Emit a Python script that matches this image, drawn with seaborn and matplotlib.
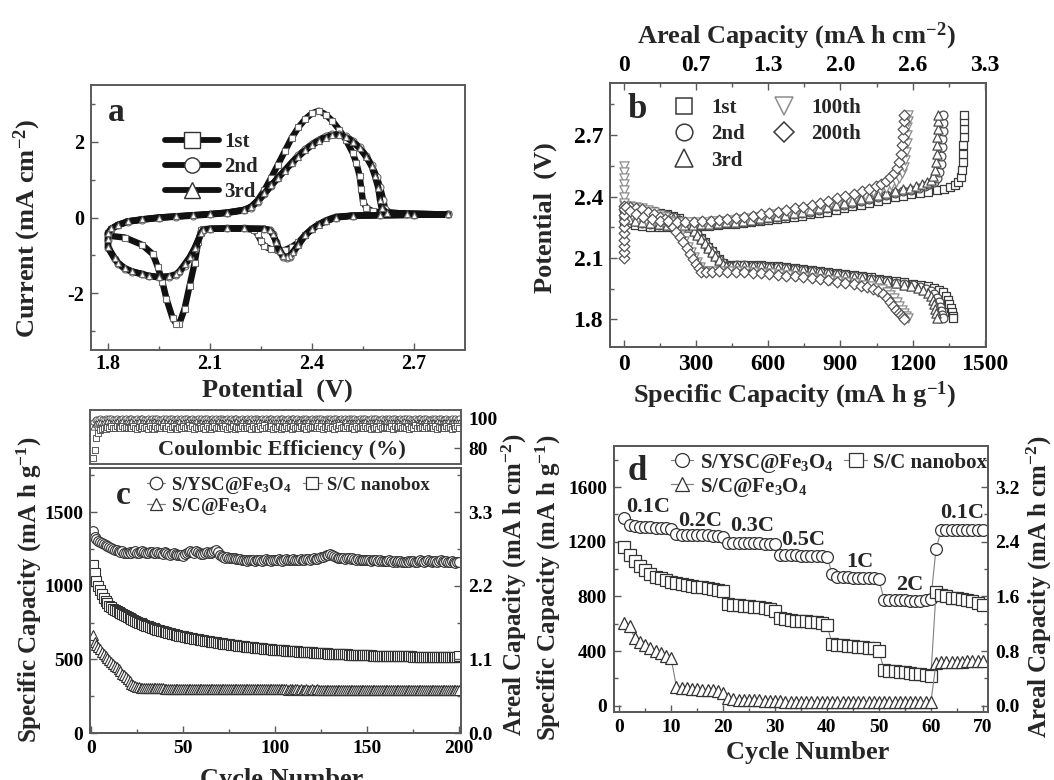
import matplotlib
matplotlib.use("Agg")
import matplotlib.pyplot as plt
from matplotlib.lines import Line2D
from matplotlib.ticker import MultipleLocator, FixedLocator, FixedFormatter
import seaborn as sns

# ---------------------------------------------------------------------------
# (a) cyclic voltammograms, cycles 1-3 (potential in V, current in mA cm^-2)
# ---------------------------------------------------------------------------
cv1_potential = [2.80, 2.70, 2.60, 2.52, 2.47, 2.44, 2.42, 2.40, 2.38, 2.36,
                 2.34, 2.32, 2.30, 2.28, 2.26, 2.25, 2.24, 2.23, 2.20, 2.15,
                 2.10, 2.08, 2.074, 2.065, 2.055, 2.04, 2.025, 2.01, 2.00, 1.99,
                 1.972, 1.96, 1.947, 1.932, 1.90, 1.85, 1.80,
                 1.80, 1.81, 1.83, 1.86, 1.90, 1.95, 2.00, 2.05, 2.10, 2.15,
                 2.20, 2.22, 2.24, 2.26, 2.28, 2.30, 2.32, 2.34, 2.36, 2.38,
                 2.40, 2.42, 2.44, 2.46, 2.48, 2.50, 2.52, 2.53, 2.54, 2.545,
                 2.55, 2.56, 2.58, 2.62, 2.70, 2.80]
cv1_current = [0.08, 0.07, 0.06, 0.05, 0.02, -0.08, -0.18, -0.30, -0.46, -0.66,
               -0.78, -0.86, -0.87, -0.84, -0.76, -0.62, -0.44, -0.33, -0.29, -0.29,
               -0.30, -0.31, -0.34, -0.66, -1.19, -1.80, -2.42, -2.80, -2.80, -2.66,
               -2.15, -1.70, -1.32, -0.97, -0.72, -0.53, -0.48,
               -0.42, -0.30, -0.20, -0.10, -0.05, 0.00, 0.03, 0.06, 0.09, 0.13,
               0.20, 0.27, 0.45, 0.72, 1.05, 1.40, 1.75, 2.10, 2.38, 2.60,
               2.75, 2.82, 2.72, 2.55, 2.32, 2.05, 1.70, 1.45, 1.10, 0.75,
               0.42, 0.25, 0.16, 0.12, 0.10, 0.08]

cv2_potential = [2.80, 2.70, 2.60, 2.52, 2.47, 2.44, 2.42, 2.40, 2.38, 2.36,
                 2.345, 2.335, 2.325, 2.315, 2.305, 2.295, 2.285, 2.275, 2.26, 2.20,
                 2.15, 2.10, 2.08, 2.074, 2.055, 2.04, 2.025, 2.01, 2.00, 1.98,
                 1.95, 1.92, 1.90, 1.87, 1.85, 1.83, 1.82, 1.80,
                 1.80, 1.80, 1.81, 1.83, 1.86, 1.90, 1.95, 2.00, 2.05, 2.10,
                 2.15, 2.20, 2.22, 2.24, 2.26, 2.28, 2.30, 2.32, 2.34, 2.36,
                 2.38, 2.40, 2.42, 2.44, 2.46, 2.48, 2.50, 2.52, 2.54, 2.56,
                 2.575, 2.59, 2.60, 2.61, 2.615, 2.63, 2.68, 2.80]
cv2_current = [0.08, 0.07, 0.06, 0.05, 0.00, -0.10, -0.18, -0.30, -0.46, -0.72,
               -0.92, -1.04, -1.08, -1.05, -0.90, -0.66, -0.44, -0.33, -0.30, -0.29,
               -0.29, -0.30, -0.33, -0.42, -0.83, -1.08, -1.27, -1.45, -1.52, -1.57,
               -1.58, -1.55, -1.50, -1.43, -1.36, -1.22, -1.10, -0.80,
               -0.60, -0.42, -0.30, -0.20, -0.11, -0.06, -0.01, 0.02, 0.05, 0.08,
               0.12, 0.19, 0.26, 0.42, 0.62, 0.84, 1.05, 1.25, 1.45, 1.64,
               1.80, 1.94, 2.05, 2.14, 2.20, 2.20, 2.14, 2.02, 1.85, 1.62,
               1.38, 1.08, 0.80, 0.45, 0.22, 0.13, 0.10, 0.08]

cv3_potential = [2.80, 2.70, 2.60, 2.52, 2.47, 2.44, 2.42, 2.40, 2.38, 2.36,
                 2.345, 2.335, 2.325, 2.315, 2.305, 2.295, 2.285, 2.275, 2.26, 2.20,
                 2.15, 2.10, 2.08, 2.074, 2.055, 2.04, 2.025, 2.01, 2.00, 1.98,
                 1.95, 1.92, 1.90, 1.87, 1.85, 1.83, 1.82, 1.80,
                 1.80, 1.80, 1.81, 1.83, 1.86, 1.90, 1.95, 2.00, 2.05, 2.10,
                 2.15, 2.20, 2.22, 2.24, 2.26, 2.28, 2.30, 2.32, 2.34, 2.36,
                 2.38, 2.40, 2.42, 2.44, 2.46, 2.48, 2.50, 2.52, 2.54, 2.56,
                 2.575, 2.585, 2.595, 2.60, 2.605, 2.62, 2.68, 2.80]
cv3_current = [0.08, 0.07, 0.06, 0.05, 0.00, -0.10, -0.19, -0.31, -0.47, -0.72,
               -0.90, -1.01, -1.05, -1.02, -0.88, -0.65, -0.44, -0.33, -0.30, -0.29,
               -0.29, -0.30, -0.33, -0.41, -0.80, -1.05, -1.24, -1.42, -1.50, -1.55,
               -1.57, -1.54, -1.49, -1.42, -1.34, -1.20, -1.08, -0.78,
               -0.58, -0.41, -0.29, -0.19, -0.10, -0.05, 0.00, 0.03, 0.06, 0.09,
               0.13, 0.20, 0.28, 0.44, 0.64, 0.85, 1.05, 1.24, 1.43, 1.61,
               1.77, 1.91, 2.02, 2.11, 2.17, 2.18, 2.12, 2.00, 1.83, 1.60,
               1.36, 1.10, 0.78, 0.46, 0.24, 0.13, 0.10, 0.08]

cv_labels = ["1st", "2nd", "3rd"]

# ---------------------------------------------------------------------------
# (b) discharge / charge profiles: (specific capacity mA h g^-1, potential V)
# ---------------------------------------------------------------------------
b1_discharge = [(0, 2.342), (30, 2.340), (60, 2.337), (90, 2.333), (120, 2.328), (150, 2.322),
                (180, 2.314), (205, 2.305), (230, 2.293), (250, 2.278), (270, 2.26), (290, 2.238),
                (305, 2.218), (320, 2.197), (335, 2.176), (350, 2.155), (365, 2.134), (380, 2.113),
                (395, 2.093), (410, 2.077), (425, 2.066), (445, 2.066), (470, 2.068), (500, 2.068),
                (535, 2.067), (570, 2.065), (605, 2.062), (640, 2.059), (675, 2.056), (710, 2.052),
                (745, 2.047), (780, 2.043), (815, 2.038), (850, 2.033), (885, 2.028), (920, 2.022),
                (955, 2.017), (990, 2.011), (1025, 2.005), (1060, 1.999), (1095, 1.993), (1130, 1.987),
                (1165, 1.981), (1200, 1.975), (1235, 1.968), (1265, 1.961), (1290, 1.953), (1310, 1.944),
                (1325, 1.932), (1337, 1.915), (1346, 1.895), (1353, 1.875), (1359, 1.855), (1363, 1.835),
                (1366, 1.818), (1368, 1.805)]
b1_charge = [(0, 2.28), (20, 2.27), (45, 2.262), (75, 2.257), (110, 2.253), (145, 2.251), (180, 2.25),
             (215, 2.25), (250, 2.251), (285, 2.253), (320, 2.255), (355, 2.258), (390, 2.261),
             (425, 2.264), (460, 2.268), (495, 2.272), (530, 2.276), (565, 2.28), (600, 2.285),
             (635, 2.29), (670, 2.295), (705, 2.301), (740, 2.307), (775, 2.313), (810, 2.32),
             (845, 2.327), (880, 2.335), (915, 2.343), (950, 2.352), (985, 2.361), (1020, 2.37),
             (1055, 2.379), (1090, 2.388), (1125, 2.396), (1160, 2.404), (1195, 2.411), (1230, 2.418),
             (1265, 2.424), (1300, 2.43), (1330, 2.437), (1355, 2.445), (1375, 2.455), (1390, 2.47),
             (1400, 2.495), (1405, 2.53), (1408, 2.57), (1410, 2.61), (1411, 2.65), (1412, 2.69),
             (1413, 2.73), (1413, 2.77), (1414, 2.80)]

b2_discharge = [(0, 2.335), (30, 2.333), (60, 2.33), (90, 2.327), (120, 2.322), (150, 2.316),
                (180, 2.309), (205, 2.3), (230, 2.288), (250, 2.273), (270, 2.256), (290, 2.235),
                (305, 2.215), (320, 2.195), (335, 2.174), (350, 2.153), (365, 2.132), (380, 2.112),
                (395, 2.092), (410, 2.075), (425, 2.063), (445, 2.062), (470, 2.064), (500, 2.064),
                (535, 2.063), (570, 2.061), (605, 2.058), (640, 2.055), (675, 2.051), (710, 2.047),
                (745, 2.042), (780, 2.038), (815, 2.033), (850, 2.028), (885, 2.022), (920, 2.016),
                (955, 2.011), (990, 2.005), (1025, 1.999), (1060, 1.993), (1095, 1.987), (1130, 1.98),
                (1165, 1.973), (1200, 1.966), (1230, 1.958), (1255, 1.949), (1275, 1.938), (1290, 1.924),
                (1301, 1.905), (1309, 1.885), (1315, 1.862), (1319, 1.84), (1322, 1.822), (1325, 1.805)]
b2_charge = [(0, 2.30), (20, 2.29), (45, 2.28), (75, 2.272), (110, 2.266), (145, 2.262), (180, 2.259),
             (215, 2.258), (250, 2.258), (285, 2.259), (320, 2.261), (355, 2.264), (390, 2.267),
             (425, 2.27), (460, 2.274), (495, 2.278), (530, 2.283), (565, 2.288), (600, 2.294),
             (635, 2.3), (670, 2.306), (705, 2.313), (740, 2.32), (775, 2.327), (810, 2.335),
             (845, 2.343), (880, 2.352), (915, 2.361), (950, 2.37), (985, 2.38), (1020, 2.389),
             (1055, 2.399), (1090, 2.408), (1125, 2.417), (1160, 2.426), (1195, 2.434), (1225, 2.442),
             (1250, 2.451), (1270, 2.46), (1287, 2.472), (1300, 2.49), (1310, 2.52), (1316, 2.56),
             (1320, 2.6), (1322, 2.64), (1324, 2.68), (1325, 2.72), (1326, 2.76), (1327, 2.80)]

b3_discharge = [(0, 2.33), (30, 2.328), (60, 2.326), (90, 2.323), (120, 2.318), (150, 2.312),
                (180, 2.305), (205, 2.296), (230, 2.284), (250, 2.27), (270, 2.253), (290, 2.232),
                (305, 2.212), (320, 2.192), (335, 2.171), (350, 2.15), (365, 2.129), (380, 2.109),
                (395, 2.09), (410, 2.073), (425, 2.061), (445, 2.06), (470, 2.062), (500, 2.062),
                (535, 2.061), (570, 2.059), (605, 2.056), (640, 2.053), (675, 2.049), (710, 2.045),
                (745, 2.04), (780, 2.036), (815, 2.031), (850, 2.026), (885, 2.02), (920, 2.014),
                (955, 2.008), (990, 2.002), (1025, 1.996), (1060, 1.99), (1095, 1.983), (1130, 1.976),
                (1165, 1.969), (1195, 1.961), (1222, 1.952), (1245, 1.942), (1262, 1.93), (1275, 1.914),
                (1284, 1.895), (1290, 1.874), (1295, 1.852), (1298, 1.83), (1301, 1.805)]
b3_charge = [(0, 2.30), (20, 2.291), (45, 2.282), (75, 2.275), (110, 2.269), (145, 2.265), (180, 2.262),
             (215, 2.261), (250, 2.261), (285, 2.262), (320, 2.264), (355, 2.267), (390, 2.27),
             (425, 2.274), (460, 2.278), (495, 2.283), (530, 2.288), (565, 2.293), (600, 2.299),
             (635, 2.305), (670, 2.312), (705, 2.319), (740, 2.326), (775, 2.334), (810, 2.342),
             (845, 2.35), (880, 2.359), (915, 2.368), (950, 2.378), (985, 2.388), (1020, 2.398),
             (1055, 2.407), (1090, 2.417), (1125, 2.426), (1160, 2.435), (1190, 2.443), (1215, 2.451),
             (1240, 2.46), (1260, 2.47), (1275, 2.482), (1285, 2.5), (1292, 2.53), (1297, 2.57),
             (1300, 2.61), (1302, 2.65), (1303, 2.69), (1304, 2.73), (1305, 2.77), (1306, 2.80)]

b100_discharge = [(0, 2.36), (25, 2.356), (50, 2.35), (75, 2.343), (100, 2.334), (125, 2.323),
                  (150, 2.31), (170, 2.298), (188, 2.28), (205, 2.258), (220, 2.235), (235, 2.21),
                  (250, 2.183), (265, 2.155), (280, 2.127), (292, 2.103), (304, 2.078), (315, 2.055),
                  (327, 2.038), (345, 2.034), (370, 2.037), (400, 2.038), (435, 2.037), (470, 2.036),
                  (505, 2.034), (540, 2.032), (575, 2.029), (610, 2.025), (645, 2.021), (680, 2.017),
                  (715, 2.013), (750, 2.009), (785, 2.004), (820, 1.999), (855, 1.994), (890, 1.989),
                  (925, 1.983), (960, 1.977), (995, 1.97), (1025, 1.963), (1050, 1.955), (1072, 1.946),
                  (1092, 1.935), (1108, 1.921), (1122, 1.904), (1134, 1.885), (1145, 1.866),
                  (1155, 1.848), (1164, 1.832), (1172, 1.818), (1181, 1.805)]
b100_charge = [(0, 2.55), (0, 2.52), (0, 2.49), (0, 2.46), (0, 2.43), (0, 2.40), (0, 2.37),
               (3, 2.345), (15, 2.325), (35, 2.308), (60, 2.296), (90, 2.287), (125, 2.281),
               (160, 2.277), (195, 2.275), (230, 2.274), (265, 2.274), (300, 2.275), (335, 2.277),
               (370, 2.28), (405, 2.283), (440, 2.287), (475, 2.291), (510, 2.296), (545, 2.301),
               (580, 2.307), (615, 2.313), (650, 2.319), (685, 2.326), (720, 2.333), (755, 2.341),
               (790, 2.349), (825, 2.358), (860, 2.367), (895, 2.377), (930, 2.387), (965, 2.398),
               (1000, 2.409), (1035, 2.42), (1065, 2.431), (1090, 2.442), (1112, 2.455), (1130, 2.47),
               (1145, 2.49), (1157, 2.515), (1165, 2.545), (1170, 2.58), (1173, 2.62), (1175, 2.66),
               (1177, 2.70), (1178, 2.74), (1179, 2.77), (1180, 2.80)]

b200_discharge = [(0, 2.355), (25, 2.351), (50, 2.345), (75, 2.337), (100, 2.327), (125, 2.315),
                  (150, 2.302), (170, 2.29), (187, 2.273), (202, 2.252), (217, 2.229), (232, 2.204),
                  (247, 2.177), (262, 2.149), (276, 2.121), (288, 2.097), (299, 2.072), (310, 2.05),
                  (322, 2.032), (340, 2.03), (365, 2.033), (395, 2.034), (430, 2.033), (465, 2.032),
                  (500, 2.03), (535, 2.028), (570, 2.025), (605, 2.021), (640, 2.018), (675, 2.014),
                  (710, 2.01), (745, 2.006), (780, 2.001), (815, 1.996), (850, 1.991), (885, 1.985),
                  (920, 1.979), (955, 1.972), (985, 1.965), (1012, 1.957), (1037, 1.948), (1058, 1.937),
                  (1077, 1.923), (1093, 1.906), (1107, 1.887), (1120, 1.867), (1132, 1.848),
                  (1142, 1.832), (1151, 1.82), (1158, 1.81), (1165, 1.802)]
b200_charge = [(0, 2.10), (0, 2.13), (0, 2.16), (0, 2.19), (0, 2.22), (0, 2.25), (0, 2.28), (0, 2.31),
               (2, 2.34), (8, 2.35), (25, 2.33), (50, 2.313), (80, 2.3), (115, 2.29), (150, 2.283),
               (185, 2.279), (220, 2.277), (255, 2.277), (290, 2.278), (325, 2.28), (360, 2.283),
               (395, 2.287), (430, 2.291), (465, 2.296), (500, 2.301), (535, 2.307), (570, 2.313),
               (605, 2.32), (640, 2.327), (675, 2.335), (710, 2.343), (745, 2.351), (780, 2.36),
               (815, 2.37), (850, 2.38), (885, 2.391), (920, 2.402), (955, 2.414), (990, 2.426),
               (1020, 2.438), (1047, 2.45), (1070, 2.463), (1090, 2.478), (1107, 2.495), (1122, 2.515),
               (1135, 2.54), (1145, 2.57), (1152, 2.61), (1157, 2.65), (1160, 2.69), (1162, 2.73),
               (1164, 2.77), (1165, 2.80)]

b_cycles = ["1st", "2nd", "3rd", "100th", "200th"]
b_ticks = [0, 300, 600, 900, 1200, 1500]
areal_top_labels = ["0", "0.7", "1.3", "2.0", "2.6", "3.3"]

# ---------------------------------------------------------------------------
# (c) long-term cycling, 200 cycles (mA h g^-1) and coulombic efficiency (%)
# ---------------------------------------------------------------------------
c_cycles = list(range(1, 201))
c_ysc = [1375, 1330, 1315, 1305, 1296, 1290, 1282, 1276, 1268, 1262, 1257, 1250, 1246, 1240, 1233, 1228, 1236, 1226, 1220, 1226,
         1230, 1222, 1228, 1235, 1226, 1220, 1232, 1238, 1230, 1226, 1222, 1228, 1230, 1224, 1220, 1232, 1226, 1222, 1218, 1228,
         1224, 1215, 1210, 1218, 1222, 1214, 1208, 1212, 1206, 1204, 1214, 1224, 1232, 1238, 1230, 1226, 1234, 1228, 1220, 1214,
         1218, 1224, 1230, 1226, 1222, 1232, 1236, 1240, 1228, 1212, 1200, 1196, 1192, 1194, 1190, 1188, 1192, 1186, 1182, 1184,
         1180, 1176, 1172, 1178, 1170, 1174, 1172, 1176, 1170, 1174, 1178, 1172, 1168, 1176, 1180, 1172, 1174, 1170, 1178, 1176,
         1172, 1180, 1174, 1170, 1176, 1182, 1178, 1172, 1176, 1180, 1176, 1172, 1178, 1182, 1176, 1174, 1180, 1184, 1178, 1182,
         1186, 1180, 1184, 1190, 1196, 1194, 1200, 1206, 1212, 1218, 1210, 1200, 1194, 1190, 1186, 1192, 1188, 1184, 1190, 1186,
         1182, 1186, 1180, 1176, 1180, 1178, 1174, 1178, 1176, 1172, 1176, 1170, 1174, 1178, 1172, 1168, 1174, 1170, 1166, 1170,
         1166, 1172, 1168, 1164, 1168, 1162, 1166, 1170, 1164, 1160, 1164, 1168, 1162, 1166, 1170, 1164, 1160, 1166, 1172, 1168,
         1164, 1170, 1174, 1168, 1164, 1170, 1166, 1162, 1168, 1172, 1166, 1162, 1168, 1164, 1160, 1166, 1162, 1158, 1164, 1160]
c_nanobox = [1141, 1090, 1035, 1000, 968, 942, 920, 900, 880, 864, 854, 845, 836, 828, 820, 813, 806, 799, 792, 785,
             779, 773, 767, 761, 755, 750, 744, 739, 734, 729, 725, 720, 716, 712, 707, 703, 699, 695, 691, 687,
             684, 681, 677, 674, 671, 668, 665, 662, 659, 656, 653, 651, 648, 646, 643, 641, 638, 636, 634, 631,
             629, 627, 625, 623, 621, 619, 617, 615, 613, 611, 609, 607, 605, 603, 602, 600, 598, 597, 595, 593,
             592, 590, 589, 587, 586, 584, 583, 581, 580, 579, 577, 576, 575, 573, 572, 571, 570, 568, 567, 566,
             565, 564, 563, 562, 561, 560, 559, 558, 557, 556, 555, 554, 553, 552, 551, 550, 549, 548, 548, 547,
             546, 545, 544, 544, 543, 542, 541, 541, 540, 539, 539, 538, 537, 537, 536, 535, 535, 534, 534, 533,
             532, 532, 531, 531, 530, 530, 529, 529, 528, 528, 527, 527, 526, 526, 526, 525, 525, 524, 524, 524,
             523, 523, 523, 522, 522, 522, 521, 521, 521, 521, 520, 520, 520, 520, 519, 519, 519, 519, 518, 518,
             518, 518, 518, 517, 517, 517, 517, 517, 516, 516, 516, 516, 516, 516, 515, 515, 515, 515, 515, 522]
c_fe3o4 = [668, 615, 596, 582, 568, 552, 538, 524, 510, 496, 484, 470, 458, 445, 432, 418, 404, 391, 378, 364,
           350, 336, 324, 316, 312, 310, 309, 308, 307, 307, 306, 306, 305, 305, 304, 304, 303, 303, 303, 302,
           302, 302, 301, 302, 301, 301, 300, 301, 300, 300, 301, 300, 300, 299, 300, 300, 299, 300, 299, 299,
           300, 299, 299, 300, 299, 298, 299, 299, 298, 299, 298, 299, 298, 298, 299, 298, 298, 297, 298, 298,
           298, 297, 298, 297, 298, 297, 297, 298, 297, 297, 296, 297, 297, 296, 297, 297, 296, 297, 296, 296,
           297, 296, 296, 297, 296, 296, 295, 296, 296, 295, 296, 296, 295, 296, 295, 295, 296, 295, 295, 296,
           295, 295, 296, 295, 295, 294, 295, 295, 294, 295, 295, 294, 295, 294, 294, 295, 294, 294, 295, 294,
           294, 295, 294, 294, 293, 294, 294, 293, 294, 294, 293, 294, 293, 293, 294, 293, 293, 294, 293, 293,
           293, 293, 294, 293, 293, 292, 293, 293, 292, 293, 293, 292, 293, 292, 292, 293, 292, 292, 293, 292,
           292, 293, 292, 292, 291, 292, 292, 291, 292, 292, 291, 292, 291, 291, 292, 291, 291, 292, 291, 295]

ce_ysc = [97.6, 98.8, 99.3, 99.6, 99.9, 99.4, 99.8, 100.2, 99.6, 99.9, 100.1, 99.5, 99.8, 100.3, 99.7, 99.4, 100.0, 99.8, 100.2, 99.6,
          99.9, 100.3, 99.5, 99.8, 100.1, 99.6, 99.9, 100.4, 99.7, 99.5, 100.0, 99.8, 100.2, 99.6, 99.9, 100.3, 99.4, 99.8, 100.1, 99.7,
          100.2, 99.6, 99.9, 100.3, 99.5, 99.8, 100.0, 99.7, 100.2, 99.4, 99.9, 100.1, 99.6, 99.8, 100.3, 99.7, 99.5, 100.0, 99.8, 100.2,
          99.6, 99.9, 100.4, 99.7, 99.5, 100.1, 99.8, 100.2, 99.6, 99.9, 100.3, 99.5, 99.8, 100.0, 99.7, 100.2, 99.4, 99.9, 100.1, 99.6,
          99.8, 100.3, 99.7, 99.5, 100.0, 99.8, 100.2, 99.6, 99.9, 100.3, 99.4, 99.8, 100.1, 99.7, 100.2, 99.6, 99.9, 100.4, 99.7, 99.5,
          100.1, 99.7, 99.9, 100.2, 99.5, 99.8, 100.3, 99.6, 99.9, 100.0, 99.7, 100.2, 99.5, 99.8, 100.1, 99.6, 100.3, 99.8, 99.5, 100.0,
          99.8, 100.2, 99.6, 99.9, 100.4, 99.7, 99.5, 100.1, 99.8, 100.2, 99.6, 99.9, 100.3, 99.5, 99.8, 100.0, 99.7, 100.2, 99.4, 99.9,
          100.0, 99.6, 100.2, 99.8, 99.5, 100.3, 99.7, 99.9, 100.1, 99.6, 99.8, 100.2, 99.5, 99.9, 100.3, 99.7, 99.6, 100.0, 99.8, 100.1,
          99.7, 100.1, 99.5, 99.9, 100.2, 99.6, 99.8, 100.4, 99.7, 99.9, 100.0, 99.6, 100.2, 99.8, 99.5, 100.1, 99.7, 99.9, 100.3, 99.6,
          99.9, 100.2, 99.6, 99.8, 100.0, 99.5, 100.3, 99.7, 99.9, 100.1, 99.6, 99.8, 100.2, 99.7, 99.5, 100.0, 99.8, 100.2, 99.6, 99.9]
ce_nanobox = [73.5, 79.0, 87.0, 90.5, 92.0, 93.0, 93.6, 92.8, 94.2, 93.4, 94.6, 93.8, 93.2, 94.8, 94.0, 93.4, 95.0, 93.6, 94.4, 93.2,
              94.0, 93.2, 94.6, 93.8, 92.8, 94.4, 93.6, 95.0, 93.4, 94.2, 93.0, 94.6, 93.8, 92.8, 94.8, 93.6, 94.2, 93.2, 95.0, 93.8,
              93.4, 94.6, 93.0, 94.2, 95.0, 93.6, 92.8, 94.4, 93.8, 94.8, 93.2, 94.0, 95.2, 93.4, 94.6, 93.0, 94.2, 93.6, 94.8, 93.2,
              94.4, 93.0, 94.8, 93.6, 92.8, 94.2, 95.0, 93.4, 94.0, 93.2, 94.6, 93.8, 95.0, 93.0, 94.4, 93.6, 94.8, 92.8, 94.2, 93.4,
              93.8, 94.6, 93.2, 95.0, 93.6, 94.0, 92.8, 94.8, 93.4, 94.2, 93.0, 94.6, 93.8, 95.2, 93.2, 94.4, 93.6, 94.8, 93.0, 94.0,
              93.4, 94.8, 93.0, 94.2, 93.6, 95.0, 93.2, 94.4, 92.8, 94.6, 93.8, 94.0, 93.2, 95.0, 93.6, 94.2, 93.0, 94.8, 93.4, 94.4,
              94.0, 93.2, 94.6, 93.8, 95.0, 93.0, 94.4, 93.6, 94.8, 93.2, 94.2, 92.8, 94.6, 93.4, 95.2, 93.8, 94.0, 93.2, 94.8, 93.6,
              93.6, 94.4, 93.0, 94.8, 93.4, 94.2, 95.0, 93.2, 94.6, 93.8, 94.0, 92.8, 94.8, 93.6, 94.4, 93.0, 95.0, 93.4, 94.2, 93.8,
              94.2, 93.4, 94.8, 93.0, 94.6, 93.6, 94.0, 95.0, 93.2, 94.4, 93.8, 94.8, 93.0, 94.2, 93.6, 95.2, 93.4, 94.6, 93.2, 94.0,
              93.8, 94.6, 93.2, 94.2, 95.0, 93.4, 94.8, 93.0, 94.4, 93.6, 94.0, 93.2, 94.8, 93.8, 94.2, 93.0, 94.6, 93.4, 95.0, 93.6]
ce_fe3o4 = [94.5, 96.0, 96.8, 97.2, 97.6, 97.0, 97.8, 97.2, 98.0, 97.4, 96.8, 97.8, 97.2, 98.2, 97.0, 97.6, 98.0, 96.8, 97.4, 97.8,
            97.2, 98.0, 96.8, 97.6, 97.2, 98.2, 97.0, 97.8, 97.4, 96.8, 98.0, 97.2, 97.6, 98.2, 97.0, 97.4, 97.8, 96.8, 98.0, 97.2,
            97.6, 97.0, 98.0, 97.4, 96.8, 97.8, 97.2, 98.2, 97.0, 97.6, 97.4, 98.0, 96.8, 97.8, 97.2, 97.6, 98.2, 97.0, 97.4, 97.8,
            97.0, 97.8, 97.4, 96.8, 98.0, 97.2, 97.6, 97.0, 98.2, 97.4, 97.8, 96.8, 97.2, 98.0, 97.6, 97.0, 97.8, 97.4, 98.2, 96.8,
            97.4, 98.0, 97.0, 97.6, 97.2, 98.2, 96.8, 97.8, 97.4, 97.0, 98.0, 97.2, 97.6, 96.8, 97.8, 97.4, 98.2, 97.0, 97.6, 97.2,
            97.8, 97.2, 96.8, 98.0, 97.4, 97.0, 97.6, 98.2, 97.2, 97.8, 96.8, 97.4, 98.0, 97.0, 97.6, 97.2, 97.8, 98.2, 97.0, 97.4,
            97.2, 97.6, 98.0, 97.0, 97.8, 97.4, 96.8, 98.2, 97.2, 97.6, 97.0, 97.8, 97.4, 98.0, 96.8, 97.6, 97.2, 98.2, 97.0, 97.8,
            97.6, 97.0, 97.8, 97.4, 98.0, 96.8, 97.2, 97.6, 98.2, 97.0, 97.4, 97.8, 97.2, 96.8, 98.0, 97.4, 97.6, 97.0, 97.8, 98.2,
            97.0, 97.8, 97.2, 97.6, 96.8, 98.0, 97.4, 97.0, 97.8, 98.2, 97.2, 97.6, 97.0, 97.4, 98.0, 96.8, 97.8, 97.2, 97.6, 97.0,
            97.4, 98.0, 97.0, 97.6, 97.2, 97.8, 96.8, 98.2, 97.4, 97.0, 97.6, 97.8, 97.2, 98.0, 97.0, 97.4, 97.8, 97.2, 97.6, 97.4]

c_series = ["S/YSC@Fe$_3$O$_4$", "S/C nanobox", "S/C@Fe$_3$O$_4$"]

# ---------------------------------------------------------------------------
# (d) rate capability, 70 cycles (mA h g^-1)
# ---------------------------------------------------------------------------
d_cycles = list(range(1, 71))
d_ysc = [1375, 1325, 1315, 1310, 1308, 1305, 1302, 1300, 1298, 1295,
         1255, 1252, 1250, 1250, 1248, 1248, 1246, 1245, 1244, 1238,
         1190, 1188, 1190, 1192, 1192, 1190, 1188, 1186, 1184, 1180,
         1105, 1100, 1100, 1100, 1098, 1098, 1097, 1096, 1095, 1092,
         965, 945, 942, 940, 938, 937, 936, 934, 932, 925,
         775, 772, 772, 771, 771, 770, 770, 770, 771, 780,
         1148, 1285, 1287, 1287, 1288, 1288, 1287, 1287, 1286, 1285]
d_nanobox = [1165, 1100, 1060, 1020, 990, 965, 945, 932, 918, 908,
             895, 888, 882, 876, 870, 866, 862, 856, 850, 842,
             745, 738, 734, 730, 727, 724, 720, 716, 710, 696,
             640, 632, 628, 624, 621, 618, 614, 610, 606, 592,
             453, 446, 442, 438, 435, 432, 429, 425, 420, 404,
             262, 256, 252, 248, 244, 240, 236, 231, 226, 218,
             835, 812, 800, 792, 786, 780, 772, 764, 752, 740]
d_fe3o4 = [609, 584, 494, 470, 446, 421, 404, 385, 365, 348,
           141, 132, 128, 125, 122, 119, 116, 113, 110, 95,
           56, 49, 46, 44, 42, 41, 40, 39, 38, 37,
           32, 31, 31, 30, 30, 30, 29, 29, 29, 29,
           28, 28, 28, 28, 28, 27, 27, 27, 27, 27,
           27, 27, 27, 26, 26, 26, 26, 26, 26, 25,
           316, 322, 323, 324, 324, 324, 325, 325, 325, 325]
rate_labels = ["0.1C", "0.2C", "0.3C", "0.5C", "1C", "2C", "0.1C"]
rate_label_x = [5.5, 15.6, 25.6, 35.4, 46.4, 56.0, 66.0]
rate_label_y = [1454, 1355, 1312, 1215, 1054, 886, 1408]

# ---------------------------------------------------------------------------
# styling
# ---------------------------------------------------------------------------
sns.set_theme(style="ticks")
plt.rcParams.update({
    "font.family": ["Liberation Serif", "DejaVu Serif"],
    "font.weight": "bold",
    "axes.labelweight": "bold",
    "mathtext.fontset": "custom",
    "mathtext.rm": "Liberation Serif:bold",
    "mathtext.bf": "Liberation Serif:bold",
    "mathtext.it": "Liberation Serif:bold:italic",
    "mathtext.default": "bf",
    "axes.facecolor": "white",
    "figure.facecolor": "white",
    "xtick.labelcolor": "black",
    "ytick.labelcolor": "black",
})

SPINE = "#5a5a5a"
EDGE = "#333333"
LINE_GRAY = "#808080"


def style_axes(ax, tick_size, pad=5):
    for sp in ax.spines.values():
        sp.set_color(SPINE)
        sp.set_linewidth(1.4)
    ax.tick_params(which="both", direction="in", color=SPINE, width=1.0,
                   labelsize=tick_size, pad=pad)
    ax.tick_params(which="major", length=5)
    ax.tick_params(which="minor", length=3)


fig = plt.figure(figsize=(10.54, 7.8), dpi=100)
FW, FH = 1054.0, 780.0


def px_rect(x0, y0, x1, y1):
    return [x0 / FW, 1 - y1 / FH, (x1 - x0) / FW, (y1 - y0) / FH]


ax_a = fig.add_axes(px_rect(91, 85, 465, 350))
ax_b = fig.add_axes(px_rect(610, 83, 986, 347))
ax_ce = fig.add_axes(px_rect(90, 410, 461, 464))
ax_c = fig.add_axes(px_rect(90, 468, 461, 733))
ax_d = fig.add_axes(px_rect(614, 446, 988, 712))

# ----------------------------- panel (a) ----------------------------------
cv_sets = [(cv1_potential, cv1_current, "s"),
           (cv2_potential, cv2_current, "o"),
           (cv3_potential, cv3_current, "^")]
for pot, cur, mk in cv_sets:
    sns.lineplot(x=pot, y=cur, sort=False, estimator=None, ax=ax_a, legend=False,
                 color="#111111", lw=4.6, marker=mk, markersize=5,
                 markerfacecolor="white", markeredgecolor="#6a6a6a",
                 markeredgewidth=0.8)
style_axes(ax_a, 14.5)
ax_a.tick_params(axis="x", pad=3)
ax_a.set_xlim(1.75, 2.85)
ax_a.set_ylim(-3.5, 3.5)
ax_a.xaxis.set_major_locator(FixedLocator([1.8, 2.1, 2.4, 2.7]))
ax_a.xaxis.set_minor_locator(FixedLocator([1.95, 2.25, 2.55]))
ax_a.yaxis.set_major_locator(FixedLocator([-2, 0, 2]))
ax_a.yaxis.set_minor_locator(FixedLocator([-3, -1, 1, 3]))
ax_a.set_xticklabels(["1.8", "2.1", "2.4", "2.7"])
ax_a.set_yticklabels(["-2", "0", "2"])
ax_a.set_xlabel("Potential  (V)", fontsize=19)
ax_a.set_ylabel("Current (mA cm$^{-2}$)", fontsize=19)
ax_a.xaxis.set_label_coords(0.497, -0.108)
ax_a.yaxis.set_label_coords(-0.128, 0.46)
ax_a.text(0.067, 0.895, "a", transform=ax_a.transAxes, fontsize=24,
          ha="center", va="center")
a_handles = [Line2D([], [], color="#111111", lw=4.2, marker=m, markersize=11,
                    markerfacecolor="white", markeredgecolor=EDGE, markeredgewidth=1.0)
             for m in ["s", "o", "^"]]
ax_a.legend(a_handles, cv_labels, loc="upper left", bbox_to_anchor=(0.165, 0.87),
            frameon=False, fontsize=15, handlelength=2.6, handletextpad=0.25,
            labelspacing=0.25, borderpad=0.1)

# ----------------------------- panel (b) ----------------------------------
b_sets = [
    (b1_discharge + b1_charge, "s", "#3a3a3a", 40),
    (b2_discharge + b2_charge, "o", "#4a4a4a", 40),
    (b3_discharge + b3_charge, "^", "#4a4a4a", 44),
    (b100_discharge + b100_charge, "v", "#8c8c8c", 44),
    (b200_discharge + b200_charge, "D", "#555555", 30),
]
for pts, mk, ec, size in b_sets:
    q = [p[0] for p in pts]
    v = [p[1] for p in pts]
    sns.scatterplot(x=q, y=v, ax=ax_b, legend=False, marker=mk, s=size,
                    facecolor="white", edgecolor=ec, linewidth=0.9)
style_axes(ax_b, 17)
ax_b.set_xlim(-58, 1505)
ax_b.set_ylim(1.665, 2.955)
ax_b.xaxis.set_major_locator(FixedLocator(b_ticks))
ax_b.xaxis.set_minor_locator(MultipleLocator(150))
ax_b.yaxis.set_major_locator(FixedLocator([1.8, 2.1, 2.4, 2.7]))
ax_b.yaxis.set_minor_locator(FixedLocator([1.95, 2.25, 2.55, 2.85]))
ax_b.set_xticklabels([str(t) for t in b_ticks])
ax_b.set_yticklabels(["1.8", "2.1", "2.4", "2.7"])
ax_b.set_xlabel("Specific Capacity (mA h g$^{-1}$)", fontsize=19)
ax_b.set_ylabel("Potential  (V)", fontsize=19)
ax_b.xaxis.set_label_coords(0.492, -0.125)
ax_b.yaxis.set_label_coords(-0.141, 0.489)
ax_b_top = ax_b.twiny()
ax_b_top.set_xlim(ax_b.get_xlim())
style_axes(ax_b_top, 17)
ax_b_top.xaxis.set_major_locator(FixedLocator(b_ticks))
ax_b_top.xaxis.set_minor_locator(MultipleLocator(150))
ax_b_top.xaxis.set_major_formatter(FixedFormatter(areal_top_labels))
ax_b_top.set_xlabel("Areal Capacity (mA h cm$^{-2}$)", fontsize=19)
ax_b_top.xaxis.set_label_coords(0.497, 1.148)
ax_b.text(0.072, 0.9, "b", transform=ax_b.transAxes, fontsize=25,
          ha="center", va="center")
b_handles = [Line2D([], [], ls="none", marker=m, markersize=ms, markerfacecolor="white",
                    markeredgecolor=ec, markeredgewidth=1.1)
             for m, ms, ec in [("s", 12, "#3a3a3a"), ("o", 12, "#3a3a3a"),
                               ("^", 13, "#3a3a3a"), ("v", 13, "#8c8c8c"),
                               ("D", 10.5, "#3a3a3a")]]
ax_b.legend(b_handles, b_cycles, loc="upper left", bbox_to_anchor=(0.13, 0.99),
            ncol=2, frameon=False, fontsize=15, handlelength=1.2, handletextpad=0.7,
            labelspacing=0.3, columnspacing=1.3, borderpad=0.1)

# ----------------------------- panel (c) ----------------------------------
c_sets = [(c_ysc, "o", 7.0), (c_nanobox, "s", 6.5), (c_fe3o4, "^", 7.0)]
for vals, mk, ms in c_sets:
    sns.lineplot(x=c_cycles, y=vals, ax=ax_c, legend=False, estimator=None,
                 color=LINE_GRAY, lw=0.8, marker=mk, markersize=ms,
                 markerfacecolor="white", markeredgecolor=EDGE, markeredgewidth=0.8)
style_axes(ax_c, 14)
ax_c.set_xlim(-0.5, 201)
ax_c.set_ylim(0, 1800)
ax_c.xaxis.set_major_locator(MultipleLocator(50))
ax_c.xaxis.set_minor_locator(MultipleLocator(25))
ax_c.yaxis.set_major_locator(FixedLocator([0, 500, 1000, 1500]))
ax_c.yaxis.set_minor_locator(FixedLocator([250, 750, 1250, 1750]))
ax_c.set_xlabel("Cycle Number", fontsize=19)
ax_c.set_ylabel("Specific Capacity (mA h g$^{-1}$)", fontsize=18)
ax_c.xaxis.set_label_coords(0.517, -0.132)
ax_c.yaxis.set_label_coords(-0.124, 0.54)
ax_c_r = ax_c.twinx()
ax_c_r.set_ylim(0, 1800 * 0.0022)
style_axes(ax_c_r, 14)
ax_c_r.yaxis.set_major_locator(FixedLocator([0.0, 1.1, 2.2, 3.3]))
ax_c_r.yaxis.set_minor_locator(FixedLocator([0.55, 1.65, 2.75, 3.85]))
ax_c_r.yaxis.set_major_formatter(FixedFormatter(["0.0", "1.1", "2.2", "3.3"]))
ax_c_r.set_ylabel("Areal Capacity (mA h cm$^{-2}$)", fontsize=18)
ax_c_r.yaxis.set_label_coords(1.105, 0.56)
ax_c.text(0.089, 0.898, "c", transform=ax_c.transAxes, fontsize=24,
          ha="center", va="center")
c_handles = [Line2D([], [], color=LINE_GRAY, lw=0.9, marker=m, markersize=9,
                    markerfacecolor="white", markeredgecolor=EDGE, markeredgewidth=0.9)
             for m in ["o", "^", "s"]]
ax_c.legend(c_handles, [c_series[0], c_series[2], c_series[1]], loc="upper left",
            bbox_to_anchor=(0.12, 1.02), ncol=2, frameon=False, fontsize=13.5,
            handlelength=1.0, handletextpad=0.3, labelspacing=0.0,
            columnspacing=0.6, borderpad=0.15)

ce_sets = [(ce_ysc, "o"), (ce_fe3o4, "^"), (ce_nanobox, "s")]
for vals, mk in ce_sets:
    sns.scatterplot(x=c_cycles, y=vals, ax=ax_ce, legend=False, marker=mk, s=14,
                    facecolor="white", edgecolor="#444444", linewidth=0.6)
style_axes(ax_ce, 14)
ax_ce.set_xlim(-0.5, 201)
ax_ce.set_ylim(69.5, 105.5)
ax_ce.set_xticks([])
ax_ce.yaxis.tick_right()
ax_ce.yaxis.set_major_locator(FixedLocator([80, 100]))
ax_ce.set_yticklabels(["80", "100"])
ax_ce.set_xlabel("")
ax_ce.set_ylabel("")
ax_ce.text(0.517, 0.26, "Coulombic Efficiency (%)", transform=ax_ce.transAxes,
           fontsize=16, ha="center", va="center")

# ----------------------------- panel (d) ----------------------------------
d_sets = [(d_ysc, "o", 8.5), (d_nanobox, "s", 8.0), (d_fe3o4, "^", 8.5)]
for vals, mk, ms in d_sets:
    sns.lineplot(x=d_cycles, y=vals, ax=ax_d, legend=False, estimator=None,
                 color=LINE_GRAY, lw=0.8, marker=mk, markersize=ms,
                 markerfacecolor="white", markeredgecolor=EDGE, markeredgewidth=0.9)
style_axes(ax_d, 14)
ax_d.set_xlim(-1, 71)
ax_d.set_ylim(-45, 1900)
ax_d.xaxis.set_major_locator(MultipleLocator(10))
ax_d.xaxis.set_minor_locator(MultipleLocator(5))
ax_d.yaxis.set_major_locator(FixedLocator([0, 400, 800, 1200, 1600]))
ax_d.yaxis.set_minor_locator(FixedLocator([200, 600, 1000, 1400, 1800]))
ax_d.set_xlabel("Cycle Number", fontsize=19)
ax_d.set_ylabel("Specific Capacity (mA h g$^{-1}$)", fontsize=18)
ax_d.xaxis.set_label_coords(0.519, -0.109)
ax_d.yaxis.set_label_coords(-0.136, 0.466)
ax_d_r = ax_d.twinx()
ax_d_r.set_ylim(-45 * 0.002, 1900 * 0.002)
style_axes(ax_d_r, 14)
ax_d_r.yaxis.set_major_locator(FixedLocator([0.0, 0.8, 1.6, 2.4, 3.2]))
ax_d_r.yaxis.set_minor_locator(FixedLocator([0.4, 1.2, 2.0, 2.8, 3.6]))
ax_d_r.yaxis.set_major_formatter(FixedFormatter(["0.0", "0.8", "1.6", "2.4", "3.2"]))
ax_d_r.set_ylabel("Areal Capacity (mA h cm$^{-2}$)", fontsize=18)
ax_d_r.yaxis.set_label_coords(1.098, 0.47)
ax_d.text(0.061, 0.905, "d", transform=ax_d.transAxes, fontsize=25,
          ha="center", va="center")
for lab, x, y in zip(rate_labels, rate_label_x, rate_label_y):
    ax_d.text(x, y, lab, fontsize=16, ha="center", va="center")
d_handles = [Line2D([], [], color=LINE_GRAY, lw=0.9, marker=m, markersize=10,
                    markerfacecolor="white", markeredgecolor=EDGE, markeredgewidth=0.9)
             for m in ["o", "^", "s"]]
ax_d.legend(d_handles, [c_series[0], c_series[2], c_series[1]], loc="upper left",
            bbox_to_anchor=(0.115, 1.03), ncol=2, frameon=False, fontsize=15,
            handlelength=1.1, handletextpad=0.3, labelspacing=0.05,
            columnspacing=0.5, borderpad=0.15)

fig.savefig("out.png", dpi=100)
